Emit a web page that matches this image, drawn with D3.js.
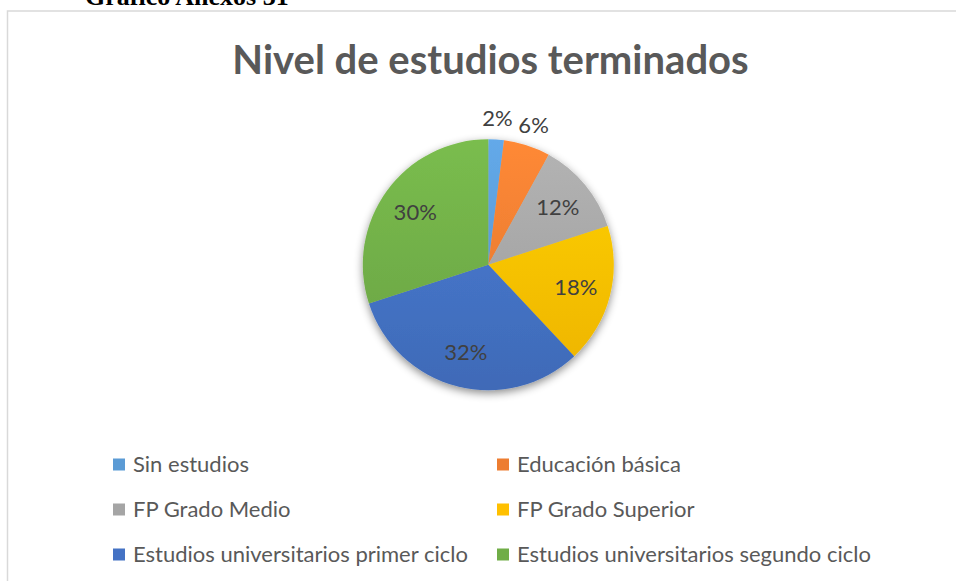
<!DOCTYPE html>
<html>
<head>
<meta charset="utf-8">
<script src="https://cdn.jsdelivr.net/npm/d3@7"></script>
<style>
  html, body { margin: 0; padding: 0; background: #fff; }
  svg { display: block; }
</style>
</head>
<body>
<svg id="chart" width="956" height="581"></svg>
<script>
const categories = ["Sin estudios", "Educación básica", "FP Grado Medio", "FP Grado Superior",
                    "Estudios universitarios primer ciclo", "Estudios universitarios segundo ciclo"];
const values = [2, 6, 12, 18, 32, 30];
const labels = ["2%", "6%", "12%", "18%", "32%", "30%"];
const colors = ["#5B9BD5", "#ED7D31", "#A5A5A5", "#FFC000", "#4472C4", "#70AD47"];
const chartTitle = "Nivel de estudios terminados";
const docCaption = "Gráfico Anexos 31";

const svg = d3.select("#chart");
const font = "Lato, 'Open Sans', sans-serif";

// document caption (cut at the top, as in the source page)
svg.append("text")
  .attr("x", 85).attr("y", 5)
  .attr("font-family", "'Liberation Serif', 'Times New Roman', serif")
  .attr("font-weight", "bold").attr("font-size", 26)
  .attr("fill", "#000")
  .text(docCaption);

// chart border
svg.append("rect")
  .attr("x", 7.5).attr("y", 11).attr("width", 1200).attr("height", 1200)
  .attr("fill", "#fff").attr("stroke", "#d9d9d9").attr("stroke-width", 1.5);

// title
svg.append("text")
  .attr("x", 490.5).attr("y", 74)
  .attr("text-anchor", "middle")
  .attr("font-family", font).attr("font-weight", "bold").attr("font-size", 40)
  .attr("fill", "#595959")
  .text(chartTitle);

const cx = 488.3, cy = 264.7, R = 125.5;

const defs = svg.append("defs");
const filter = defs.append("filter").attr("id", "shadow")
  .attr("x", "-20%").attr("y", "-20%").attr("width", "140%").attr("height", "140%");
filter.append("feDropShadow").attr("dx", 0).attr("dy", 3).attr("stdDeviation", 4)
  .attr("flood-color", "#000").attr("flood-opacity", 0.45);

colors.forEach((c, i) => {
  const g = defs.append("linearGradient").attr("id", "grad" + i)
    .attr("gradientUnits", "userSpaceOnUse")
    .attr("x1", 0).attr("y1", -R).attr("x2", 0).attr("y2", R);
  g.append("stop").attr("offset", "0%").attr("stop-color", d3.color(c).brighter(0.25).formatHex());
  g.append("stop").attr("offset", "100%").attr("stop-color", d3.color(c).darker(0.2).formatHex());
});

const data = categories.map((c, i) => ({ name: c, value: values[i], label: labels[i], i }));
const pie = d3.pie().value(d => d.value).sort(null);
const arcs = pie(data);
const arc = d3.arc().innerRadius(0).outerRadius(R);
const inArc = d3.arc().innerRadius(R * 0.72).outerRadius(R * 0.72);
const outArc = d3.arc().innerRadius(R + 21).outerRadius(R + 21);

const pg = svg.append("g").attr("transform", `translate(${cx},${cy})`);
pg.append("g").attr("filter", "url(#shadow)")
  .selectAll("path").data(arcs).join("path")
  .attr("d", arc)
  .attr("fill", d => `url(#grad${d.data.i})`);

pg.selectAll("text.lbl").data(arcs).join("text")
  .attr("class", "lbl")
  .attr("transform", d => {
    const p = (d.data.value < 10 ? outArc : inArc).centroid(d);
    return `translate(${p[0]},${p[1]})`;
  })
  .attr("dy", "0.36em")
  .attr("text-anchor", "middle")
  .attr("font-family", font).attr("font-size", 22)
  .attr("fill", "#404040")
  .text(d => d.data.label);

// legend
const colX = [113, 497];
const rowY = [464.5, 509.5, 554.5];
const lg = svg.append("g");
data.forEach((d, i) => {
  const x = colX[i % 2], y = rowY[Math.floor(i / 2)];
  lg.append("rect").attr("x", x).attr("y", y - 6).attr("width", 12).attr("height", 12)
    .attr("fill", colors[i]);
  lg.append("text").attr("x", x + 20).attr("y", y).attr("dy", "0.35em")
    .attr("font-family", font).attr("font-size", 22)
    .attr("fill", "#595959")
    .text(d.name);
});
</script>
</body>
</html>
